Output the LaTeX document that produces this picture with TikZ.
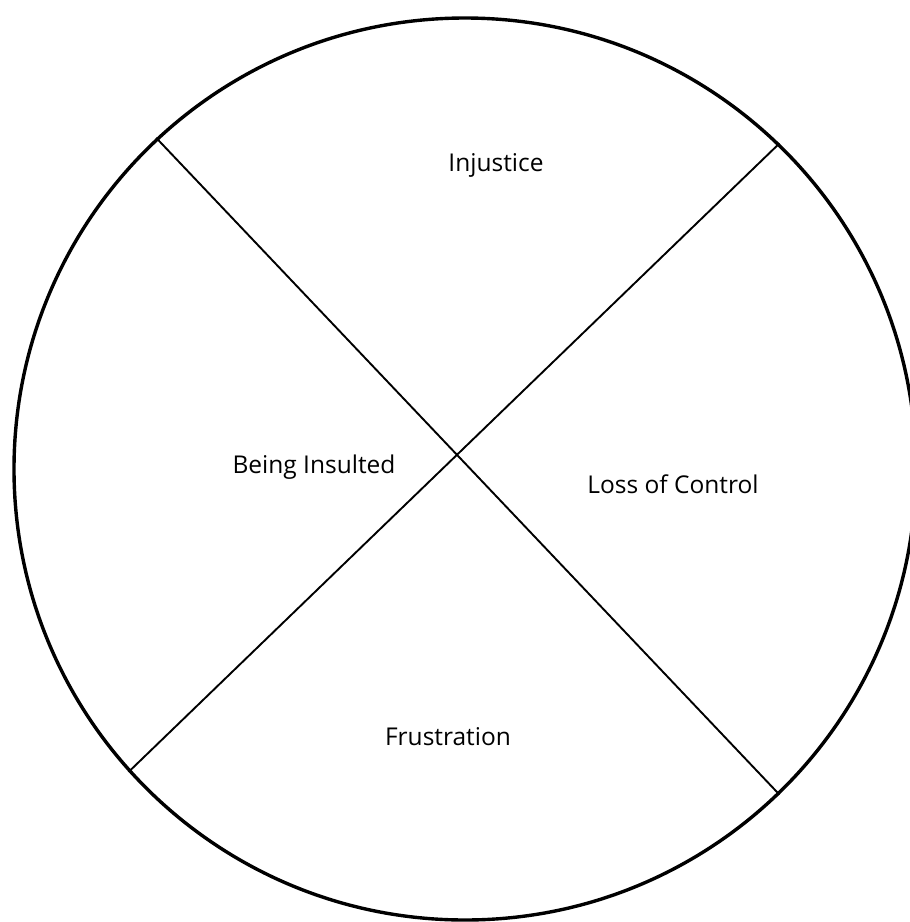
\documentclass[tikz,border=0pt]{standalone}
\usepackage{fontspec}
\setmainfont{Open Sans}
\begin{document}
\begin{tikzpicture}[x=1pt,y=-1pt,
  label/.style={font=\fontsize{24.5}{29}\selectfont, inner sep=0pt}]
  \useasboundingbox (0,0) rectangle (910,922);

  % Wheel
  \node[draw, circle, line width=3.4pt, minimum size=902pt, inner sep=0pt] (wheel) at (465,469) {};

  % Dividers
  \draw[line width=1.9pt] (wheel.133) -- (wheel.-46.6);
  \draw[line width=1.9pt] (wheel.46.6) -- (wheel.222);

  % Labels
  \node[label] (injustice)   at (496,165) {Injustice};
  \node[label] (insulted)    at (314,467) {Being Insulted};
  \node[label] (control)     at (673,484) {Loss of Control};
  \node[label] (frustration) at (448,737) {Frustration};
\end{tikzpicture}
\end{document}
